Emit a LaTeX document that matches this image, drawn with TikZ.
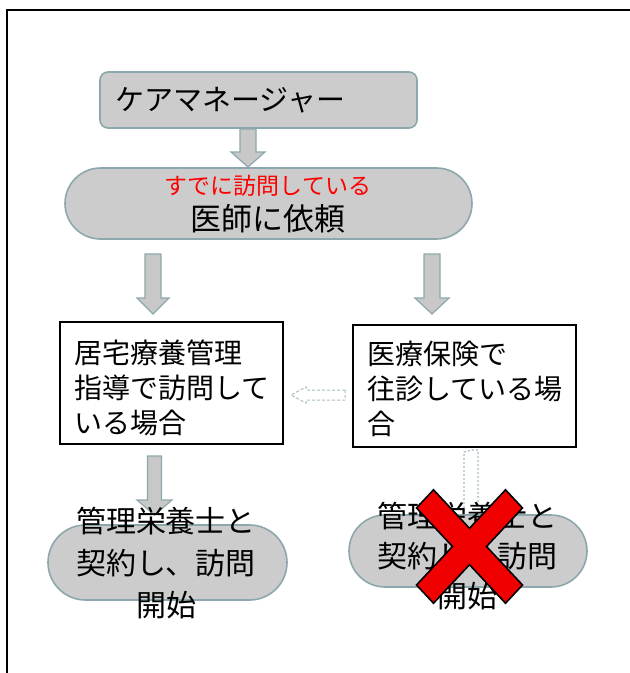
\documentclass[tikz,border=0pt]{standalone}
\usepackage{fontspec}
\newfontfamily\jp{Noto Sans CJK JP}
\usetikzlibrary{shapes.misc}
\definecolor{boxfill}{RGB}{204,204,204}
\definecolor{boxline}{RGB}{140,168,172}
\definecolor{arrfill}{RGB}{200,200,200}
\definecolor{dashc}{RGB}{170,190,195}
\definecolor{xred}{RGB}{240,0,0}
\tikzset{
  grayshape/.style={draw=boxline, fill=boxfill, line width=1.6pt, inner sep=0pt},
  whitebox/.style={draw=black, fill=white, line width=1.8pt, inner sep=0pt},
  txt/.style={inner sep=0pt, font=\jp, text=black},
  blockarr/.style={draw=boxline, fill=arrfill, line width=1.2pt, line join=miter},
}
% x, top, headtop, tip, shaft half width, head half width, style
\newcommand\bArrowDown[7]{%
  \path[#7] ({#1-#5},#2) -- ({#1+#5},#2) -- ({#1+#5},#3) -- ({#1+#6},#3) -- (#1,#4)
    -- ({#1-#6},#3) -- ({#1-#5},#3) -- cycle;}
\begin{document}
\begin{tikzpicture}[x=1pt, y=-1pt]
\useasboundingbox (0,0) rectangle (630,673);
\fill[white] (0,0) rectangle (630,673);
% outer frame (left and top edges visible)
\draw[line width=1.5pt] (7,673) -- (7,10) -- (630,10);

% top box
\node[grayshape, rectangle, rounded corners=8pt, minimum width=317pt, minimum height=56pt] (cm) at (258.5,100) {};
\node[txt, anchor=west, font=\jp\fontsize{29}{29}\selectfont] (cmtxt) at (115,100) {ケアマネージャー};

% arrow 1
\bArrowDown{248}{129}{152}{167}{8}{17}{blockarr}

% doctor stadium
\node[grayshape, rounded rectangle, minimum width=407pt, minimum height=71pt] (doc) at (268.5,203.5) {};
\node[txt, text=red, font=\jp\fontsize{23}{23}\selectfont] (doc1) at (268,186) {すでに訪問している};
\node[txt, font=\jp\fontsize{31}{31}\selectfont] (doc2) at (268,219) {医師に依頼};

% arrows to boxes
\bArrowDown{153}{254}{298}{314}{8}{16}{blockarr}
\bArrowDown{432}{254}{298}{314}{8}{17}{blockarr}

% middle boxes
\node[whitebox, minimum width=223pt, minimum height=122pt] (bl) at (171.5,383) {};
\node[txt, anchor=west, align=left, font=\jp\fontsize{28}{35}\selectfont] (bltxt) at (74,388)
  {居宅療養管理\\指導で訪問して\\いる場合};
\node[whitebox, minimum width=223pt, minimum height=122pt] (br) at (464.5,386) {};
\node[txt, anchor=west, align=left, font=\jp\fontsize{28}{35}\selectfont] (brtxt) at (367,389)
  {医療保険で\\往診している場\\合};

% dashed left arrow
\path[draw=dashc, dash pattern=on 3pt off 2pt, line width=1pt, fill=white]
  (345,390) -- (306,390) -- (306,387) -- (291,395) -- (306,403) -- (306,400) -- (345,400) -- cycle;

% bottom left
\node[grayshape, rounded rectangle, minimum width=239pt, minimum height=75pt] (sl) at (167.5,562.5) {};
\bArrowDown{154.5}{456}{500}{515}{7}{17.5}{blockarr}
\node[txt, align=center, font=\jp\fontsize{30}{42}\selectfont] (sltxt) at (166,563)
  {管理栄養士と\\契約し、訪問\\開始};

% bottom right
\node[grayshape, rounded rectangle, minimum width=238pt, minimum height=72pt] (sr) at (468,551) {};
\path[draw=dashc, dash pattern=on 2pt off 2pt, line width=1.2pt]
  (464,512) -- (464,452) -- (472,450) -- (478,450) -- (478,512);
\node[txt, align=center, font=\jp\fontsize{30}{40}\selectfont] (srtxt) at (467,556)
  {管理栄養士と\\契約し、訪問\\開始};

% red cross
\begin{scope}[shift={(469.5,546.5)}, yscale=1.07]
\path[fill=xred, draw=black, line width=1.6pt, line join=miter]
  (-36,-53) -- (0,-17) -- (36,-53) -- (53,-36) -- (17,0) -- (53,36)
  -- (36,53) -- (0,17) -- (-36,53) -- (-53,36) -- (-17,0) -- (-53,-36) -- cycle;
\end{scope}
\end{tikzpicture}
\end{document}
